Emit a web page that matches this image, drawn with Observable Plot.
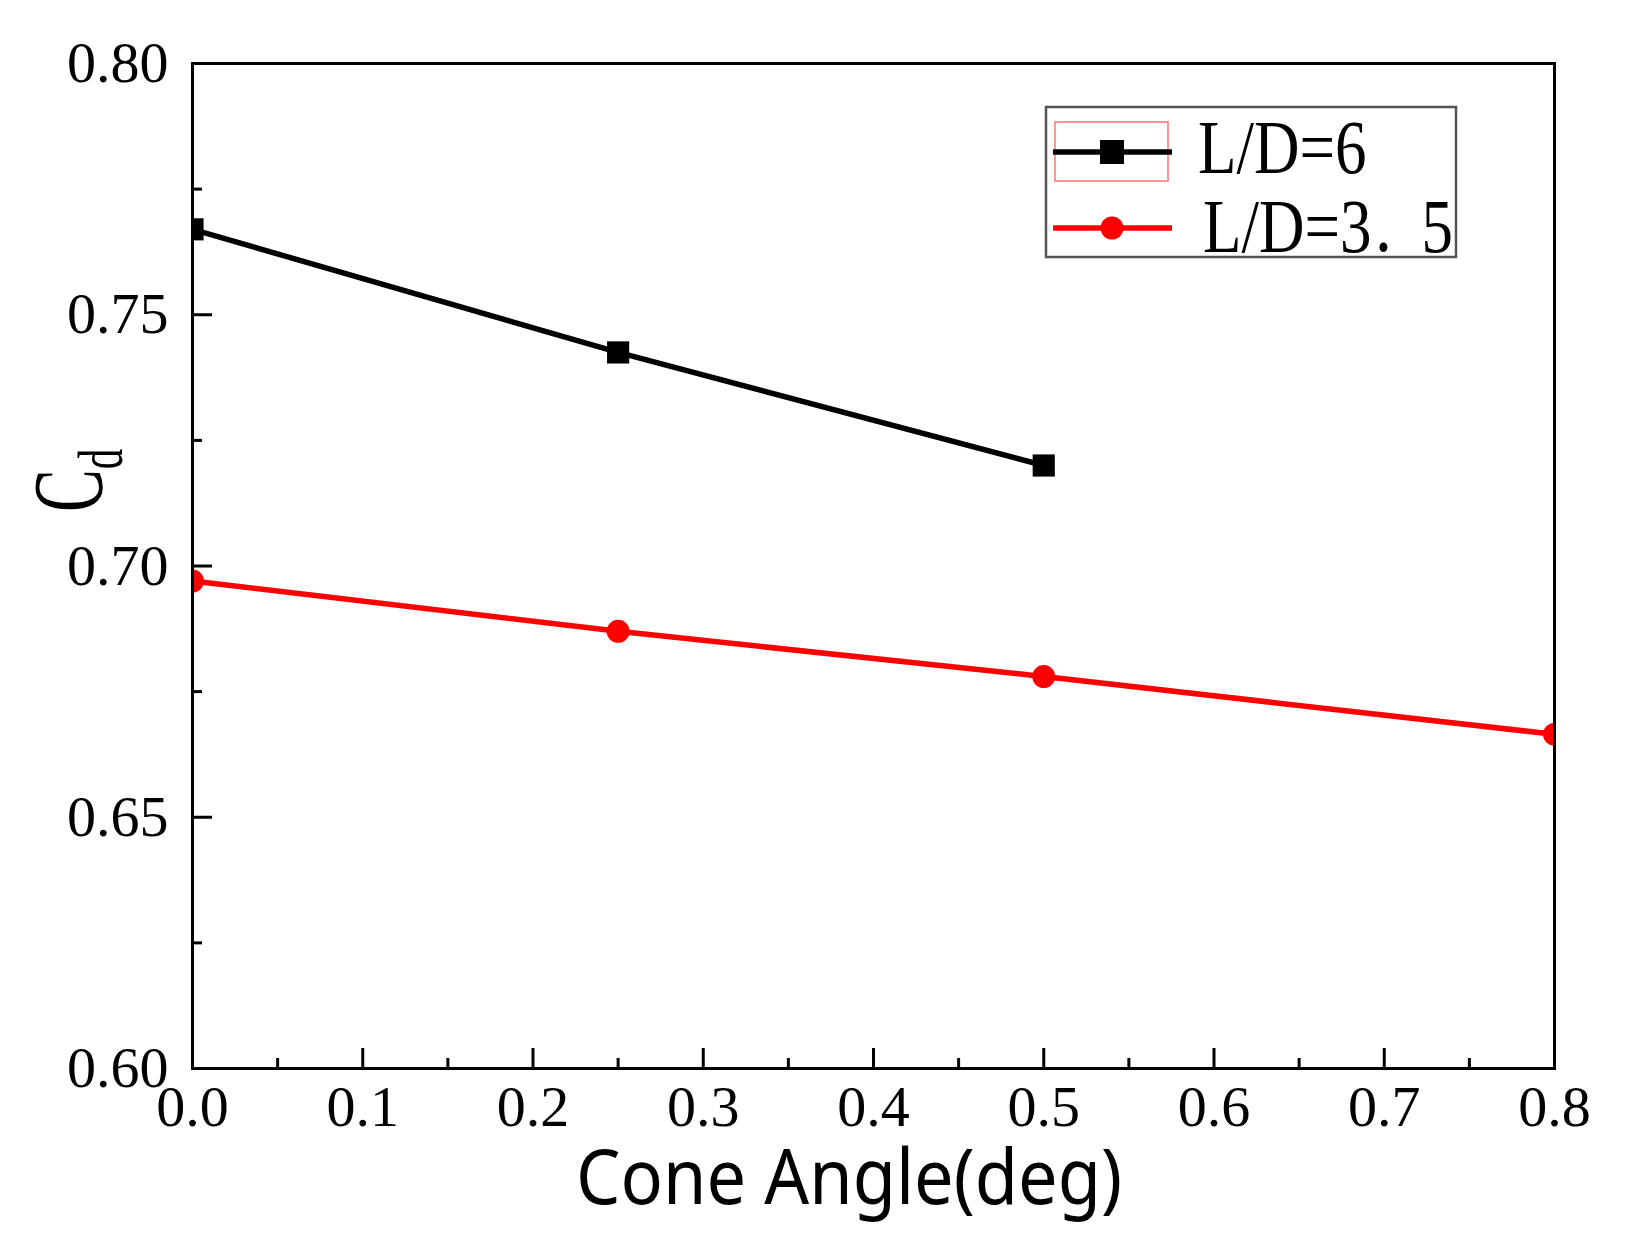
<!DOCTYPE html>
<html><head><meta charset="utf-8">
<script src="https://cdn.jsdelivr.net/npm/d3@7"></script>
<script src="https://cdn.jsdelivr.net/npm/@observablehq/plot@0.6"></script>
<style>body{margin:0;background:#fff}#chart svg{display:block}</style>
</head><body><div id="chart"></div>
<script>
// ---- data ----
const coneAngle = [0, 0.25, 0.5, 0.8];
const seriesNames = ["L/D=6", "L/D=3．5"];
const cdLD6 = [0.767, 0.7425, 0.720];
const cdLD35 = [0.697, 0.687, 0.678, 0.6665];
const xTicks = [0, 0.1, 0.2, 0.3, 0.4, 0.5, 0.6, 0.7, 0.8];
const xMinor = [0.05, 0.15, 0.25, 0.35, 0.45, 0.55, 0.65, 0.75];
const yTicks = [0.60, 0.65, 0.70, 0.75, 0.80];
const yMinor = [0.625, 0.675, 0.725, 0.775];
const xTitle = "Cone Angle(deg)";
const yTitleMain = "C", yTitleSub = "d";

const seriesColors = ["#000000", "#ff0000"];

const rows6 = cdLD6.map((v, i) => ({x: coneAngle[i], y: v, s: seriesNames[0]}));
const rows35 = cdLD35.map((v, i) => ({x: coneAngle[i], y: v, s: seriesNames[1]}));

// ---- layout ----
const W = 1627, H = 1250, mL = 192, mR = 73, mT = 63, mB = 182;
const pw = W - mL - mR, ph = H - mT - mB;
const serif = "'Liberation Serif','Times New Roman',serif";

const plot = Plot.plot({
  width: W, height: H,
  marginLeft: mL, marginRight: mR, marginTop: mT, marginBottom: mB,
  style: {fontFamily: serif, background: "#fff", color: "#000"},
  x: {domain: [0, 0.8]},
  y: {domain: [0.6, 0.8]},
  marks: [
    Plot.ruleX(xTicks, {x: d => d, insetTop: ph - 20, stroke: "#000", strokeWidth: 3}),
    Plot.ruleX(xMinor, {x: d => d, insetTop: ph - 10, stroke: "#000", strokeWidth: 3}),
    Plot.ruleY(yTicks, {y: d => d, insetRight: pw - 20, stroke: "#000", strokeWidth: 3}),
    Plot.ruleY(yMinor, {y: d => d, insetRight: pw - 10, stroke: "#000", strokeWidth: 3}),
    Plot.axisX(xTicks, {tickSize: 0, tickPadding: 16, tickFormat: d3.format(".1f"), fontSize: 58, fill: "#000", label: null}),
    Plot.axisY(yTicks, {tickSize: 0, tickPadding: 24, tickFormat: d3.format(".2f"), fontSize: 58, fill: "#000", label: null}),
    Plot.line(rows6, {x: "x", y: "y", stroke: seriesColors[0], strokeWidth: 5.5, clip: true}),
    Plot.line(rows35, {x: "x", y: "y", stroke: seriesColors[1], strokeWidth: 5.5, clip: true}),
    Plot.dot(rows6, {x: "x", y: "y", symbol: "square", r: 12.5, fill: seriesColors[0], stroke: "none", clip: true}),
    Plot.dot(rows35, {x: "x", y: "y", symbol: "circle", r: 11.5, fill: seriesColors[1], stroke: "none", clip: true}),
    Plot.frame({stroke: "#000", strokeWidth: 3})
  ]
});
document.getElementById("chart").appendChild(plot);

const svg = d3.select(plot);

// x title
svg.append("text")
  .attr("x", 849).attr("y", 1204)
  .attr("text-anchor", "middle")
  .attr("font-family", "'Noto Sans','Open Sans',sans-serif")
  .attr("font-size", 76)
  .attr("textLength", 546).attr("lengthAdjust", "spacingAndGlyphs")
  .attr("fill", "#000")
  .text(xTitle);

// y title  C_d
const yt = svg.append("text")
  .attr("transform", "translate(101,512) rotate(-90) scale(0.64,1)")
  .attr("text-anchor", "start")
  .attr("font-family", serif).attr("fill", "#000");
yt.append("tspan").attr("font-size", 100).text(yTitleMain);
yt.append("tspan").attr("font-size", 64).attr("dy", 21).text(yTitleSub);

// legend
const lg = svg.append("g").attr("text-anchor", "start");
lg.append("rect").attr("x", 1046).attr("y", 107).attr("width", 410).attr("height", 150)
  .attr("fill", "#fff").attr("stroke", "#555").attr("stroke-width", 2.5);
const rowsY = [152, 228];
const textX = [1198, 1203];
const textY = [173, 252];
// selection highlight box around first sample
lg.append("rect").attr("x", 1055).attr("y", 122).attr("width", 113).attr("height", 59)
  .attr("fill", "none").attr("stroke", "#ff7b7b").attr("stroke-width", 1.6);
seriesNames.forEach((name, i) => {
  lg.append("line").attr("x1", 1053).attr("x2", 1172).attr("y1", rowsY[i]).attr("y2", rowsY[i])
    .attr("stroke", seriesColors[i]).attr("stroke-width", 5.5);
  if (i === 0) {
    lg.append("rect").attr("x", 1112 - 12).attr("y", rowsY[i] - 12).attr("width", 24).attr("height", 24)
      .attr("fill", seriesColors[i]);
  } else {
    lg.append("circle").attr("cx", 1112).attr("cy", rowsY[i]).attr("r", 11.5).attr("fill", seriesColors[i]);
  }
  const t = lg.append("text")
    .attr("transform", `translate(${textX[i]},${textY[i]}) scale(1,1.2)`)
    .attr("font-family", serif).attr("font-size", 63).attr("fill", "#000");
  // the full-width dot in a CJK font that sets it at the lower left
  name.split(/(．)/).forEach(part => {
    if (!part) return;
    const ts = t.append("tspan").text(part);
    if (part === "．") ts.attr("font-family", "'Noto Sans CJK JP'").attr("font-size", 50);
  });
});
</script>
</body></html>
